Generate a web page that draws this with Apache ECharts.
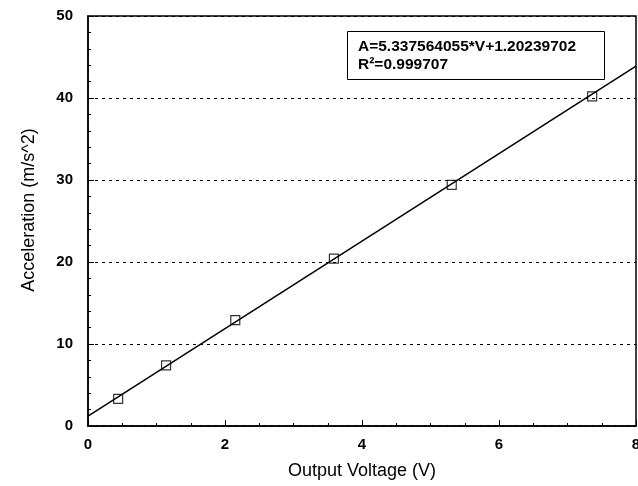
<!DOCTYPE html>
<html>
<head>
<meta charset="utf-8">
<script src="https://cdn.jsdelivr.net/npm/echarts@6/dist/echarts.min.js"></script>
<style>
  html, body { margin: 0; padding: 0; background: #fff; }
  #main { width: 638px; height: 486px; }
</style>
</head>
<body>
<div id="main"></div>
<script>
// measured points (V, m/s^2)
var voltage = [0.44, 1.14, 2.15, 3.59, 5.31, 7.36];
var accel = [3.3, 7.4, 12.9, 20.4, 29.4, 40.2];
// fitted line end points
var fitLine = [[0, 1.2], [8, 43.9]];
var fitText = ["A=5.337564055*V+1.20239702", "R\u00b2=0.999707"];

var chartDom = document.getElementById("main");
var myChart = echarts.init(chartDom, null, { renderer: "canvas" });

var option = {
  animation: false,
  grid: {
    left: 88,
    top: 16,
    right: 2,
    bottom: 60,
    outerBoundsMode: "none",
    show: true,
    borderColor: "#000",
    borderWidth: 1.5,
  },
  xAxis: {
    type: "value",
    min: 0,
    max: 8,
    interval: 2,
    name: "Output Voltage (V)",
    nameLocation: "middle",
    nameGap: 36,
    nameTextStyle: { fontFamily: "Liberation Sans", fontSize: 18, color: "#000" },
    axisLine: { show: true, lineStyle: { color: "#000", width: 1.5 } },
    axisTick: { show: true, inside: true, length: 6, lineStyle: { color: "#000" } },
    minorTick: { show: true, splitNumber: 4, length: 3, lineStyle: { color: "#000" } },
    axisLabel: {
      fontFamily: "Liberation Sans",
      fontWeight: "bold",
      fontSize: 15,
      color: "#000",
      margin: 11,
    },
    splitLine: { show: false },
  },
  yAxis: {
    type: "value",
    min: 0,
    max: 50,
    interval: 10,
    name: "Acceleration (m/s^2)",
    nameLocation: "middle",
    nameGap: 50,
    nameTextStyle: {
      fontFamily: "Liberation Sans",
      fontSize: 18,
      color: "#000",
      padding: [0, 0, 0, 22],
    },
    axisLine: { show: true, lineStyle: { color: "#000", width: 1.5 } },
    axisTick: { show: true, inside: true, length: 6, lineStyle: { color: "#000" } },
    minorTick: { show: true, splitNumber: 5, length: 3, lineStyle: { color: "#000" } },
    axisLabel: {
      fontFamily: "Liberation Sans",
      fontWeight: "bold",
      fontSize: 15,
      color: "#000",
      margin: 15,
    },
    splitLine: {
      show: true,
      lineStyle: { color: "#000", type: [3, 4], width: 1 },
    },
  },
  series: [
    {
      name: "fit",
      type: "line",
      data: fitLine,
      symbol: "none",
      lineStyle: { color: "#000", width: 1.5 },
      z: 2,
    },
    {
      name: "data",
      type: "scatter",
      data: voltage.map(function (v, i) { return [v, accel[i]]; }),
      symbol: "rect",
      symbolSize: 9,
      itemStyle: { color: "rgba(255,255,255,0)", borderColor: "#000", borderWidth: 1.2 },
      z: 3,
    },
  ],
  graphic: [
    {
      type: "rect",
      left: 347,
      top: 31,
      shape: { width: 257, height: 48 },
      style: { fill: "#fff", stroke: "#000", lineWidth: 1 },
      z: 10,
    },
    {
      type: "text",
      left: 358,
      top: 38,
      style: {
        text: fitText.join("\n"),
        fontFamily: "Liberation Sans",
        fontWeight: "bold",
        fontSize: 15.5,
        lineHeight: 18,
        fill: "#000",
      },
      z: 11,
    },
  ],
};

option && myChart.setOption(option);
</script>
</body>
</html>
